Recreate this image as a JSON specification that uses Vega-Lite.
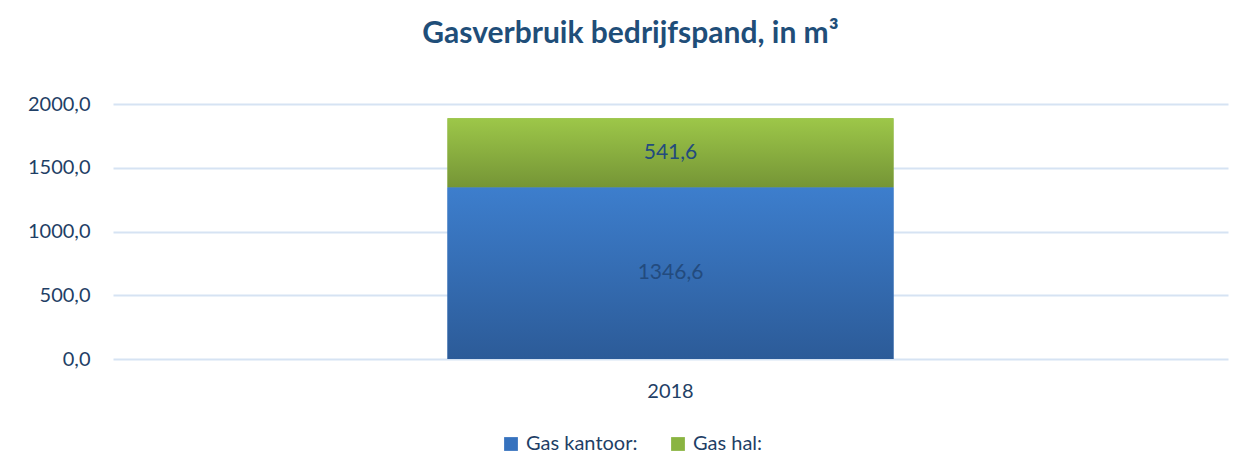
{
  "$schema": "https://vega.github.io/schema/vega-lite/v6.json",
  "autosize": "none",
  "width": 1115,
  "height": 255,
  "padding": {"left": 113, "top": 104, "right": 25, "bottom": 115},
  "background": "white",
  "config": {
    "view": {"stroke": null},
    "font": "Lato",
    "locale": {"number": {"decimal": ",", "thousands": ".", "grouping": [3], "currency": ["€", ""]}}
  },
  "title": {
    "text": "Gasverbruik bedrijfspand, in m³",
    "fontSize": 30,
    "fontWeight": "bold",
    "color": "#1F4E79",
    "anchor": "middle",
    "dx": -40,
    "offset": 45,
    "font": "Lato"
  },
  "data": {
    "values": [
      {"year": "2018", "series": "Gas kantoor:", "value": 1346.6},
      {"year": "2018", "series": "Gas hal:", "value": 541.6}
    ]
  },
  "transform": [
    {"stack": "value", "groupby": ["year"], "sort": [{"field": "series", "order": "descending"}], "as": ["y0", "y1"]}
  ],
  "layer": [
    {
      "mark": {"type": "bar", "width": {"band": 0.4}},
      "encoding": {
        "x": {
          "field": "year", "type": "nominal",
          "scale": {"paddingInner": 0, "paddingOuter": 0},
          "axis": {"title": null, "labelAngle": 0, "ticks": false, "domain": false, "labelFontSize": 20, "labelColor": "#1F3F66", "labelPadding": 22, "labelFont": "Lato"}
        },
        "y": {
          "field": "y1", "type": "quantitative",
          "scale": {"domain": [0, 2000]},
          "axis": {"title": null, "values": [0, 500, 1000, 1500, 2000], "format": ".1f", "ticks": false, "domain": false, "gridColor": "#D6E3F3", "gridWidth": 2, "labelFontSize": 20, "labelColor": "#1F3F66", "labelPadding": 23, "labelFont": "Lato"}
        },
        "y2": {"field": "y0"},
        "color": {
          "field": "series", "type": "nominal",
          "scale": {"domain": ["Gas kantoor:", "Gas hal:"], "range": ["#3672BE", "#8AB441"]},
          "legend": {
            "title": null, "orient": "none", "direction": "horizontal", "legendX": 388, "legendY": 330,
            "symbolType": "square", "symbolSize": 190, "symbolStrokeWidth": 0, "labelFontSize": 20, "labelColor": "#1F3F66", "labelFont": "Lato", "columnPadding": 30, "labelOffset": 5
          }
        }
      }
    },
    {
      "transform": [{"filter": "datum.series === 'Gas kantoor:'"}],
      "mark": {"type": "bar", "width": {"band": 0.4}, "color": {"gradient": "linear", "x1": 0, "y1": 0, "x2": 0, "y2": 1, "stops": [{"offset": 0, "color": "#3D7ECD"}, {"offset": 1, "color": "#2C5B98"}]}},
      "encoding": {
        "x": {"field": "year", "type": "nominal"},
        "y": {"field": "y1", "type": "quantitative"},
        "y2": {"field": "y0"}
      }
    },
    {
      "transform": [{"filter": "datum.series === 'Gas hal:'"}],
      "mark": {"type": "bar", "width": {"band": 0.4}, "color": {"gradient": "linear", "x1": 0, "y1": 0, "x2": 0, "y2": 1, "stops": [{"offset": 0, "color": "#9DC749"}, {"offset": 1, "color": "#759536"}]}},
      "encoding": {
        "x": {"field": "year", "type": "nominal"},
        "y": {"field": "y1", "type": "quantitative"},
        "y2": {"field": "y0"}
      }
    },
    {
      "transform": [{"fold": ["y0", "y1"], "as": ["k", "pos"]}],
      "mark": {"type": "text", "fontSize": 21, "color": "#234B7E", "baseline": "middle", "align": "center"},
      "encoding": {
        "x": {"field": "year", "type": "nominal"},
        "y": {"field": "pos", "type": "quantitative", "aggregate": "mean"},
        "detail": {"field": "series", "type": "nominal"},
        "text": {"field": "value", "type": "quantitative", "aggregate": "max", "format": ".1f"}
      }
    }
  ]
}
